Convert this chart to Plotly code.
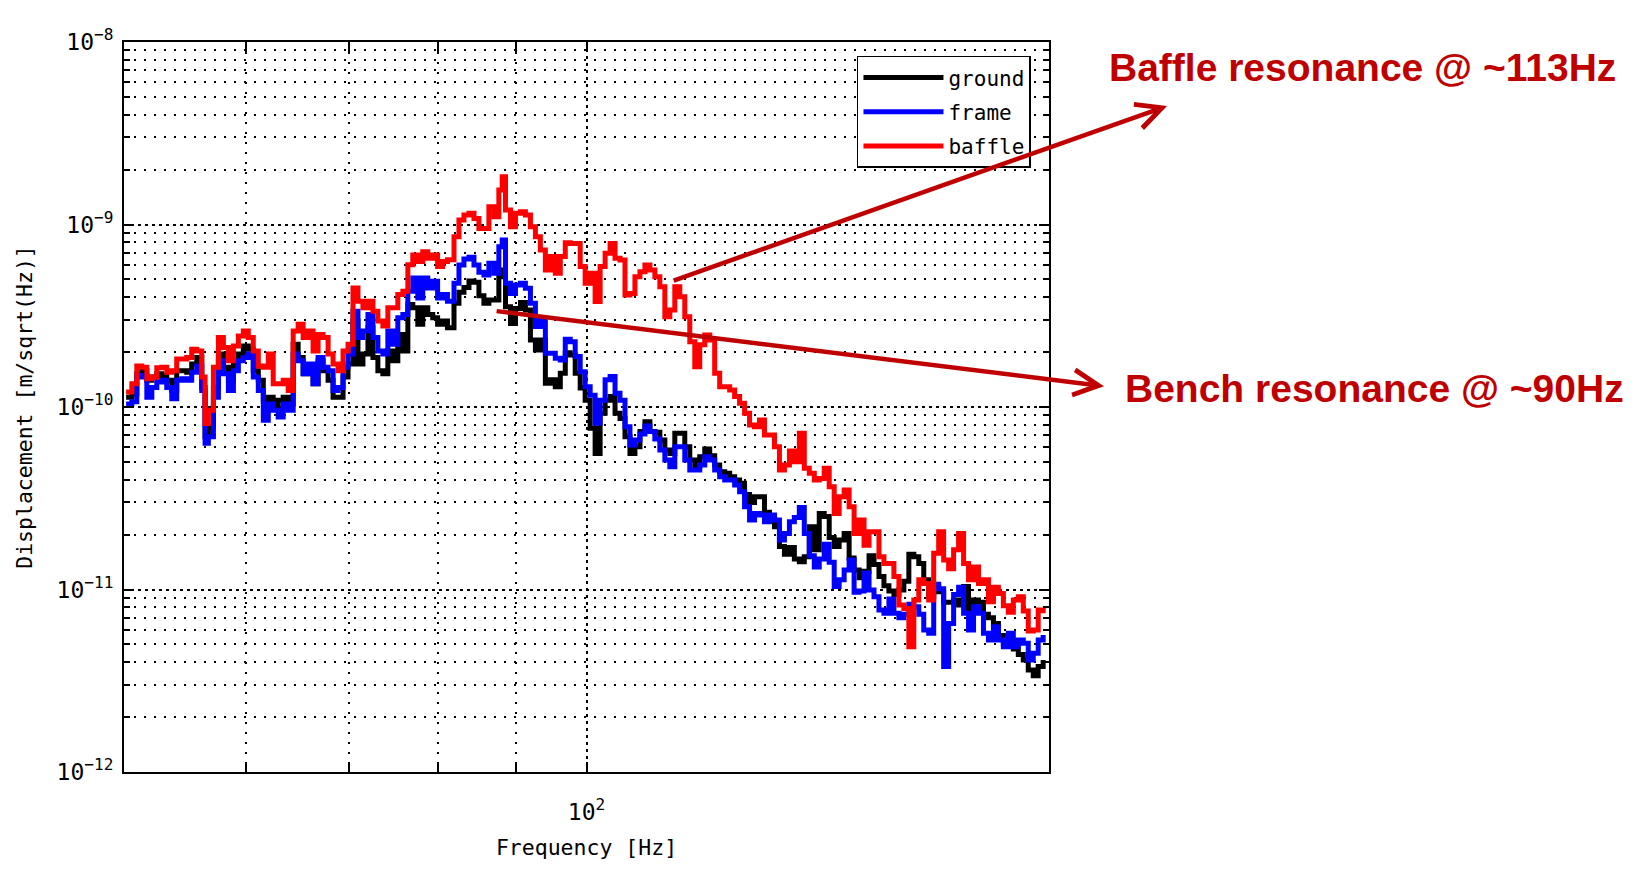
import numpy as np
import plotly.graph_objects as go

# ---------------- data ----------------
freq_hz = [
    50.16, 50.59, 50.97, 51.35, 51.74, 52.13, 52.52, 52.91, 53.31, 53.71,
    54.11, 54.52, 54.93, 55.34, 55.76, 56.18, 56.46, 56.74, 57.17, 57.60,
    58.03, 58.47, 58.91, 59.35, 59.79, 60.24, 60.69, 61.15, 61.61, 62.07,
    62.53, 63.00, 63.47, 63.95, 64.43, 64.91, 65.40, 65.89, 66.38, 66.88,
    67.38, 67.89, 68.40, 68.91, 69.43, 69.95, 70.47, 71.00, 71.53, 72.07,
    72.61, 73.15, 73.70, 74.25, 74.81, 75.37, 75.94, 76.51, 77.08, 77.66,
    78.24, 78.83, 79.42, 80.00, 80.59, 81.19,
    81.99, 82.60, 83.22, 83.85, 84.48, 85.11, 85.75, 86.39, 87.05, 87.69,
    88.13, 88.57, 89.23, 89.90, 90.58, 91.25, 91.94, 92.63, 93.32, 94.02,
    94.72, 95.43, 96.15, 96.87, 97.59, 98.32, 99.06, 99.80, 100.55, 101.30,
    102.06, 102.83, 103.60, 104.37, 105.15, 105.94, 106.73, 107.53, 108.34, 109.15,
    109.97, 110.79, 111.62, 112.46, 113.30, 114.15, 115.01, 115.87, 116.74, 117.62,
    118.50, 119.39, 120.28, 121.18, 122.09, 123.01, 123.93, 124.86,
    125.79, 126.73, 127.68, 128.64, 129.60, 130.57, 131.55, 132.54, 133.53, 134.53,
    135.54, 136.55, 137.57, 138.60, 139.64, 140.69, 141.74, 142.80, 143.87, 144.95,
    146.03, 147.13, 148.23, 149.34, 150.46, 151.58, 152.72, 153.86, 155.01, 156.17,
    157.34, 158.52, 159.71, 160.90, 162.11, 163.32, 164.54, 165.77, 167.01, 168.26,
    169.52, 170.79, 172.07, 173.36, 174.66, 175.97, 177.28, 178.61, 179.95, 181.29,
    182.65, 184.02, 185.40, 186.78, 188.18, 189.59, 191.01, 192.44, 193.88, 195.33,
    196.79, 198.26,
]

# amplitude spectral densities, in units of 1e-10 m/sqrt(Hz)
ground_e10 = [
    1.13, 1.18, 1.52, 1.58, 1.40, 1.46, 1.52, 1.49, 1.40, 1.23,
    1.58, 1.58, 1.55, 1.72, 1.87, 1.28, 0.687, 0.778, 1.28, 1.95,
    1.65, 1.40, 1.79, 1.95, 2.16, 2.07, 1.58, 1.40, 1.09, 1.13,
    1.00, 1.09, 1.13, 1.04, 2.21, 1.87, 1.52, 1.58, 1.34, 1.79,
    1.58, 1.40, 1.13, 1.13, 1.46, 1.72, 2.96, 1.72, 1.95, 2.72,
    1.87, 1.58, 1.52, 2.03, 1.79, 2.50, 2.03, 3.64, 3.50, 2.84,
    3.50, 3.21, 3.08, 2.84, 2.96, 2.72,
    3.70, 4.25, 4.51, 4.90, 4.82, 4.07, 3.70, 3.86, 3.86, 5.63,
    5.18, 3.54, 2.87, 3.47, 3.74, 3.40, 2.33, 2.05, 2.33, 1.35,
    1.41, 1.29, 1.53, 1.98, 1.93, 1.53, 1.27, 1.09, 0.764, 0.557,
    0.923, 1.09, 1.14, 0.923, 0.866, 0.688, 0.557, 0.606, 0.733, 0.830,
    0.733, 0.727, 0.659, 0.582, 0.557, 0.717, 0.717, 0.606, 0.512, 0.471,
    0.534, 0.588, 0.541, 0.481, 0.442, 0.433, 0.415, 0.398,
    0.382, 0.332, 0.300, 0.322, 0.322, 0.265, 0.248, 0.221, 0.172, 0.156,
    0.170, 0.147, 0.142, 0.151, 0.221, 0.165, 0.261, 0.251, 0.193, 0.172,
    0.187, 0.203, 0.149, 0.128, 0.116, 0.126, 0.153, 0.137, 0.118, 0.105,
    0.0981, 0.0940, 0.0994, 0.111, 0.156, 0.151, 0.139, 0.113, 0.0913, 0.104,
    0.0973, 0.0851, 0.0851, 0.0876, 0.0822, 0.104, 0.0741, 0.0876, 0.0851, 0.0732,
    0.0701, 0.0652, 0.0559, 0.0501, 0.0514, 0.0472, 0.0441, 0.0411, 0.0362, 0.0337,
    0.0378, 0.0411,
]

frame_e10 = [
    1.04, 1.07, 1.46, 1.49, 1.13, 1.28, 1.37, 1.40, 1.28, 1.11,
    1.40, 1.43, 1.40, 1.55, 1.68, 1.23, 0.632, 0.687, 1.13, 1.79,
    1.52, 1.23, 1.58, 1.79, 1.87, 1.95, 1.46, 1.23, 0.846, 1.04,
    0.959, 0.882, 1.04, 0.959, 1.95, 1.79, 1.52, 1.72, 1.34, 1.87,
    1.65, 1.58, 1.23, 1.28, 1.65, 1.95, 3.35, 2.40, 2.61, 3.21,
    2.40, 2.03, 1.95, 2.61, 2.21, 3.08, 3.21, 4.31, 5.09, 3.96,
    5.09, 4.49, 4.88, 3.96, 4.13, 3.80,
    4.76, 6.00, 6.47, 6.61, 6.00, 5.47, 5.29, 6.13, 5.40, 7.56,
    8.22, 4.76, 4.19, 4.66, 4.76, 4.47, 3.70, 2.76, 3.00, 1.97,
    1.97, 1.85, 1.81, 2.35, 2.28, 1.89, 1.56, 1.29, 1.16, 0.814,
    1.09, 1.41, 1.47, 1.19, 1.09, 0.780, 0.619, 0.659, 0.711, 0.787,
    0.733, 0.667, 0.582, 0.512, 0.471, 0.606, 0.606, 0.512, 0.451, 0.451,
    0.481, 0.534, 0.512, 0.451, 0.415, 0.398, 0.398, 0.374,
    0.343, 0.284, 0.240, 0.261, 0.256, 0.235, 0.256, 0.240, 0.187, 0.203,
    0.235, 0.248, 0.281, 0.203, 0.153, 0.133, 0.147, 0.177, 0.141, 0.104,
    0.113, 0.128, 0.145, 0.0965, 0.0981, 0.123, 0.0994, 0.0913, 0.0772, 0.0741,
    0.0887, 0.0741, 0.0701, 0.0732, 0.0829, 0.0805, 0.0732, 0.0600, 0.0576, 0.107,
    0.101, 0.0378, 0.0652, 0.0940, 0.103, 0.0741, 0.0600, 0.0805, 0.0741, 0.0576,
    0.0529, 0.0626, 0.0529, 0.0486, 0.0576, 0.0486, 0.0529, 0.0507, 0.0411, 0.0447,
    0.0529, 0.0564,
]

baffle_e10 = [
    1.21, 1.34, 1.68, 1.65, 1.43, 1.46, 1.64, 1.65, 1.55, 1.58,
    1.83, 1.83, 1.87, 2.07, 2.03, 1.46, 0.812, 0.959, 1.65, 2.40,
    2.12, 1.79, 2.16, 2.45, 2.61, 2.40, 2.03, 1.68, 1.65, 1.95,
    1.34, 1.34, 1.40, 1.23, 2.61, 2.84, 2.40, 2.61, 2.03, 2.50,
    2.40, 1.95, 1.72, 1.58, 2.03, 2.21, 4.49, 3.80, 3.50, 3.80,
    3.35, 2.96, 2.78, 3.50, 3.50, 4.13, 4.31, 6.01, 6.81, 6.27,
    7.10, 6.53, 6.81, 5.89, 6.27, 6.40,
    8.57, 10.58, 11.27, 11.51, 10.80, 9.52, 9.52, 12.52, 11.03, 15.45,
    18.27, 12.00, 9.73, 11.51, 11.75, 11.27, 9.73, 8.57, 7.24, 5.63,
    6.67, 5.40, 6.67, 7.95, 7.88, 7.88, 5.88, 4.76, 5.40, 3.78,
    5.88, 6.95, 7.88, 6.53, 6.39, 4.11, 4.19, 5.18, 5.51, 6.00,
    5.63, 5.18, 4.56, 3.12, 3.40, 4.56, 4.02, 3.12, 2.28, 1.66,
    2.19, 2.48, 2.33, 1.53, 1.29, 1.29, 1.24, 1.14,
    1.047, 0.923, 0.797, 0.780, 0.849, 0.702, 0.702, 0.606, 0.451, 0.481,
    0.574, 0.501, 0.717, 0.461, 0.433, 0.398, 0.406, 0.461, 0.366, 0.261,
    0.322, 0.351, 0.284, 0.203, 0.240, 0.175, 0.207, 0.207, 0.151, 0.139,
    0.139, 0.118, 0.0822, 0.0788, 0.0486, 0.0876, 0.113, 0.108, 0.0876, 0.158,
    0.207, 0.145, 0.130, 0.165, 0.203, 0.139, 0.113, 0.133, 0.108, 0.113,
    0.0858, 0.103, 0.0952, 0.0815, 0.0750, 0.0876, 0.0913, 0.0762, 0.0593, 0.0600,
    0.0772, 0.0741,
]

series_names = ["ground", "frame", "baffle"]
series_colors = ["#000000", "#0000FF", "#FF0000"]

x_tick_vals = [100]
x_tick_text = ["10<sup>2</sup>"]
x_minor_vals = [60, 70, 80, 90]
y_tick_vals = [1e-12, 1e-11, 1e-10, 1e-9, 1e-8]
y_tick_text = ["10<sup>\u221212</sup>", "10<sup>\u221211</sup>", "10<sup>\u221210</sup>",
               "10<sup>\u22129</sup>", "10<sup>\u22128</sup>"]
y_minor_vals = [m * d for d in [1e-12, 1e-11, 1e-10, 1e-9] for m in range(2, 10)]

# annotated resonances: point on the curve [Hz, m/sqrt(Hz)] and text-side arrow end [Hz, m/sqrt(Hz)]
baffle_label = "Baffle resonance @ ~113Hz"
baffle_point = (113.7, 4.9e-10)
baffle_arrow_end = (238.7, 4.46e-9)
bench_label = "Bench resonance @ ~90Hz"
bench_point = (87.2, 3.36e-10)
bench_arrow_end = (217.2, 1.30e-10)

# ---------------- figure ----------------
scale = 1e-10
ys = [np.array(ground_e10) * scale, np.array(frame_e10) * scale, np.array(baffle_e10) * scale]

fig = go.Figure()
for name, color, y in zip(series_names, series_colors, ys):
    fig.add_trace(go.Scatter(
        x=freq_hz, y=y, name=name, mode="lines", legendgroup=name,
        line=dict(color=color, width=5, shape="hv"),
    ))

mono = "DejaVu Sans Mono"
axis_common = dict(
    showline=True, linecolor="black", linewidth=2, mirror="ticks",
    ticks="inside", ticklen=10, tickwidth=1.5, tickcolor="black",
    showgrid=True, gridcolor="black", gridwidth=1.5, griddash="3px,4px",
    zeroline=False,
    tickfont=dict(family=mono, size=23, color="black"),
    tickmode="array",
)
minor_common = dict(tickmode="array", ticks="inside", tickwidth=1.5, tickcolor="black",
                    showgrid=True, gridcolor="black", gridwidth=1.6, griddash="2px,8px")

fig.update_xaxes(
    type="log", range=[np.log10(50), np.log10(200)],
    tickvals=x_tick_vals, ticktext=x_tick_text,
    minor=dict(tickvals=x_minor_vals, ticklen=10, **minor_common),
    title=dict(text="Frequency [Hz]", font=dict(family=mono, size=21.5, color="black"), standoff=16),
    ticklabelstandoff=18,
    **axis_common,
)
fig.update_yaxes(
    type="log", range=[-12, -8],
    tickvals=y_tick_vals, ticktext=y_tick_text,
    minor=dict(tickvals=y_minor_vals, ticklen=6, **minor_common),
    title=dict(text="Displacement [m/sqrt(Hz)]", font=dict(family=mono, size=21.5, color="black"), standoff=18),
    ticklabelstandoff=4,
    **axis_common,
)

red = "#C00000"
label_font = dict(family="Liberation Sans, Arial, sans-serif", size=39, color=red, weight="bold")

for (pt, end) in [(baffle_point, baffle_arrow_end), (bench_point, bench_arrow_end)]:
    fig.add_annotation(
        x=np.log10(end[0]), y=np.log10(end[1]), xref="x", yref="y",
        ax=np.log10(pt[0]), ay=np.log10(pt[1]), axref="x", ayref="y",
        showarrow=True, arrowhead=5, arrowsize=1.1, arrowwidth=4.5, arrowcolor=red,
        text="",
    )

fig.add_annotation(x=1.3384, y=0.9644, xref="paper", yref="paper", text=baffle_label,
                   showarrow=False, font=label_font, xanchor="center", yanchor="middle")
fig.add_annotation(x=1.3524, y=0.526, xref="paper", yref="paper", text=bench_label,
                   showarrow=False, font=label_font, xanchor="center", yanchor="middle")

fig.update_layout(
    width=1646, height=869,
    margin=dict(l=124, r=597, t=42, b=97, autoexpand=False),
    paper_bgcolor="white", plot_bgcolor="white",
    showlegend=True,
    legend=dict(
        x=0.9805, y=0.981, xanchor="right", yanchor="top",
        bgcolor="white", bordercolor="black", borderwidth=1.5,
        font=dict(family=mono, size=21, color="black"),
        itemwidth=80, traceorder="grouped", tracegroupgap=4,
    ),
)

fig.write_html("out.html")
